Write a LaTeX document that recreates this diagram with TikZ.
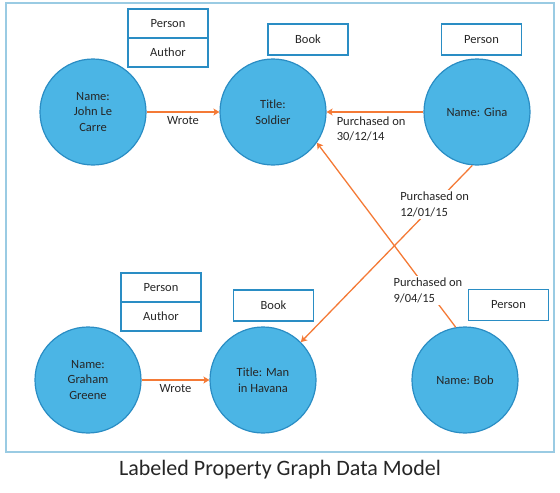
\documentclass[tikz,border=0pt]{standalone}
\usepackage{fontspec}
\setmainfont{Carlito}
\usetikzlibrary{positioning,arrows.meta}

\definecolor{nodeblue}{HTML}{4BB5E5}
\definecolor{edgeblue}{HTML}{2A8DC4}
\definecolor{frameblue}{HTML}{9ACBE3}
\definecolor{relorange}{HTML}{F47A36}
\definecolor{txtgray}{HTML}{262626}

\begin{document}
\begin{tikzpicture}[x=1pt,y=-1pt,>={Stealth[length=6pt,width=7pt,inset=1.5pt]},
  entity/.style={circle,draw=edgeblue,fill=nodeblue,line width=1.2pt,minimum size=106pt,
    inner sep=0pt,align=center,font=\fontsize{12.5}{15.5}\selectfont,text=txtgray},
  tag/.style={rectangle,draw=edgeblue,line width=1.2pt,minimum width=80pt,minimum height=29pt,
    inner sep=0pt,font=\fontsize{12.5}{15}\selectfont,text=txtgray},
  rel/.style={draw=relorange,line width=1.3pt,->},
  lbl/.style={font=\fontsize{12.5}{15.5}\selectfont,text=txtgray,align=left,inner sep=2pt}]

\useasboundingbox (0,0) rectangle (560,493);
\draw[frameblue,line width=1.5pt] (6,3) rectangle (554,452);

% nodes
\node[entity] (john) at (93,112) {Name:\\John Le\\Carre};
\node[entity] (soldier) at (273,112) {Title:\\Soldier};
\node[entity] (gina) at (477,112) {Name: Gina};
\node[entity] (graham) at (88,380) {Name:\\Graham\\Greene};
\node[entity] (havana) at (263,380) {Title: Man\\in Havana};
\node[entity] (bob) at (465,380) {Name: Bob};

% labels
\node[tag] (johnperson) at (168,23.5) {Person};
\node[tag,below=-1.2pt of johnperson] (johnauthor) {Author};
\node[tag,minimum height=31pt] (soldierbook) at (308,39.5) {Book};
\node[tag,minimum height=31pt] (ginaperson) at (481.5,39.5) {Person};
\node[tag] (grahamperson) at (161,287.5) {Person};
\node[tag,below=-1.2pt of grahamperson] (grahamauthor) {Author};
\node[tag,minimum height=31pt] (havanabook) at (273.5,305.5) {Book};
\node[tag,minimum height=31pt] (bobperson) at (508.5,305) {Person};

% relationships
\draw[rel] (john) -- (soldier) node[midway,below,lbl,yshift=-2pt] {Wrote};
\draw[rel] (graham) -- (havana) node[midway,below,lbl,yshift=-2pt] {Wrote};
\draw[rel] (gina) -- (soldier) node[pos=0.54,below,lbl,yshift=-2pt] {Purchased on\\30/12/14};
\draw[rel] (gina.265) -- (havana.45) node[pos=0.22,lbl,fill=white] {Purchased on\\12/01/15};
\draw[rel] (bob.100) -- (soldier.325) node[pos=0.2,lbl,fill=white] {Purchased on\\9/04/15};

\node[font=\fontsize{22}{26}\selectfont,text=black!85] (title) at (280,470) {Labeled Property Graph Data Model};

\end{tikzpicture}
\end{document}
